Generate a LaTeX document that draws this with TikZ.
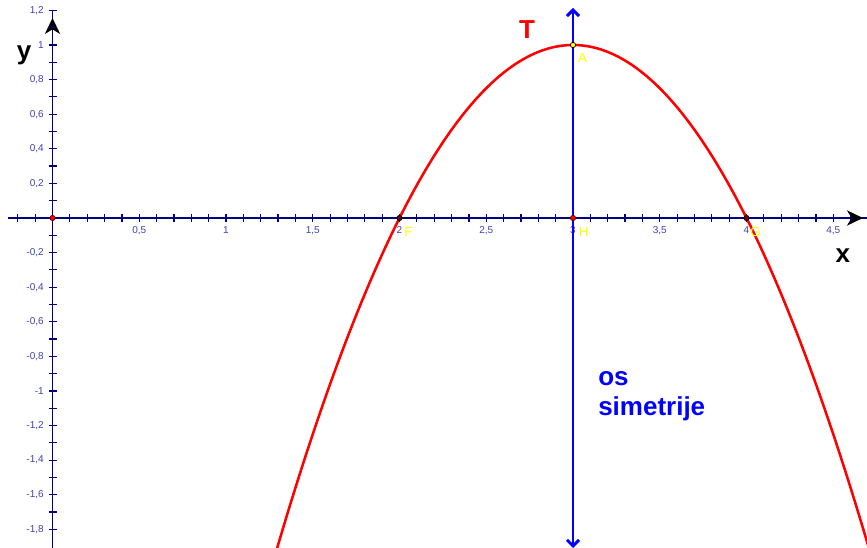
\documentclass[tikz,border=0pt]{standalone}
\usepackage{fontspec}
\setmainfont{Liberation Sans}
\usetikzlibrary{arrows.meta}
\definecolor{axisnavy}{RGB}{0,0,128}
\definecolor{ticklabel}{RGB}{64,64,176}
\definecolor{curvered}{RGB}{255,0,0}
\definecolor{symblue}{RGB}{0,0,255}
\definecolor{ptyellow}{RGB}{255,255,0}
\begin{document}
\begin{tikzpicture}[
  x=130.125pt, y=129.75pt,
  axis/.style={draw=axisnavy,line width=1.1pt},
  tick/.style={draw=axisnavy,line width=0.9pt},
  axistip/.style={axis,-{Stealth[black,length=12pt,width=11.5pt,inset=3.5pt]}},
  xlab/.style={font=\fontsize{7.5}{8}\selectfont,text=ticklabel,inner sep=0pt,below=6.5pt},
  ylab/.style={font=\fontsize{7.5}{8}\selectfont,text=ticklabel,inner sep=0pt,left=6.4pt},
  biglabel/.style={font=\fontsize{19.5}{22.5}\selectfont\bfseries,inner sep=0pt},
  parab/.style={draw=curvered,line width=1.9pt},
  symaxis/.style={draw=symblue,line width=2.2pt,
    {Straight Barb[length=4.5pt,width=9pt]}-{Straight Barb[length=4.5pt,width=9pt]}},
  redpt/.style={circle,fill=curvered,draw=black!60!red,line width=0.5pt,
    inner sep=0pt,minimum size=4pt},
  darkpt/.style={circle,fill=red!45!black,draw=black,line width=0.5pt,
    inner sep=0pt,minimum size=4pt},
  yellowpt/.style={circle,fill=ptyellow,draw=black,line width=0.5pt,
    inner sep=0pt,minimum size=4pt},
  ptlabel/.style={font=\fontsize{10}{11}\selectfont,text=ptyellow,inner sep=0pt}
]
\useasboundingbox (-0.3026,-1.9075) rectangle (4.6945,1.2601);

% axes
\coordinate (xstart) at (-0.256,0);
\coordinate (xend) at (4.6945,0);
\coordinate (xarr) at (4.55,0);
\coordinate (xtip) at (4.671,0);
\coordinate (ystart) at (0,-1.9075);
\coordinate (yend) at (0,1.2);
\coordinate (yarr) at (0,1.05);
\coordinate (ytip) at (0,1.156);
\draw[axis] (xstart) -- (xend);
\draw[axis] (ystart) -- (yend);
\draw[axistip] (xarr) -- (xtip);
\draw[axistip] (yarr) -- (ytip);

% ticks
\foreach \i in {-2,-1,1,2,...,46}
  \draw[tick] (\i/10,0) ++(0pt,-3pt) -- ++(0pt,6pt);
\foreach \i in {-18,...,-1,1,2,...,12}
  \draw[tick] (0,\i/10) ++(-3pt,0pt) -- ++(6pt,0pt);

% tick labels
\foreach \v/\t [count=\n] in {0.5/{0,5},1/1,1.5/{1,5},2/2,2.5/{2,5},3/3,
    3.5/{3,5},4/4,4.5/{4,5}}
  \node[xlab] (xl\n) at (\v,0) {\t};
\foreach \v/\t [count=\n] in {1.2/{1,2},1/1,0.8/{0,8},0.6/{0,6},0.4/{0,4},
    0.2/{0,2},-0.2/{-0,2},-0.4/{-0,4},-0.6/{-0,6},-0.8/{-0,8},-1/-1,
    -1.2/{-1,2},-1.4/{-1,4},-1.6/{-1,6},-1.8/{-1,8}}
  \node[ylab] (yl\n) at (0,\v) {\t};

% parabola
\begin{scope}
  \clip (-0.3026,-1.9075) rectangle (4.6945,1.2601);
  \draw[parab] plot[domain=1.25:4.75,samples=120,smooth] (\x,{-(\x-3)^2+1});
\end{scope}

% axis of symmetry
\coordinate (symbot) at (3,-1.9075);
\coordinate (symtop) at (3,1.214);
\draw[symaxis] (symbot) -- (symtop);

% points
\node[redpt] (O) at (0,0) {};
\node[darkpt] (F) at (2,0) {};
\node[redpt] (H) at (3,0) {};
\node[darkpt] (G) at (4,0) {};
\node[yellowpt] (A) at (3,1) {};

\node[ptlabel] (Flab) at (2.052,-0.081) {F};
\node[ptlabel] (Hlab) at (3.061,-0.081) {H};
\node[ptlabel] (Glab) at (4.052,-0.081) {G};
\node[ptlabel] (Alab) at (3.055,0.925) {A};

% labels
\node[biglabel] (ylabel) at (-0.164,0.942) {y};
\node[biglabel] (xlabel) at (4.556,-0.220) {x};
\node[biglabel,text=curvered] (Tlabel) at (2.735,1.087) {T};
\node[biglabel,text=symblue,align=left,anchor=base west] (symlabel)
  at (3.144,-1.1445) {os\\simetrije};
\end{tikzpicture}
\end{document}
